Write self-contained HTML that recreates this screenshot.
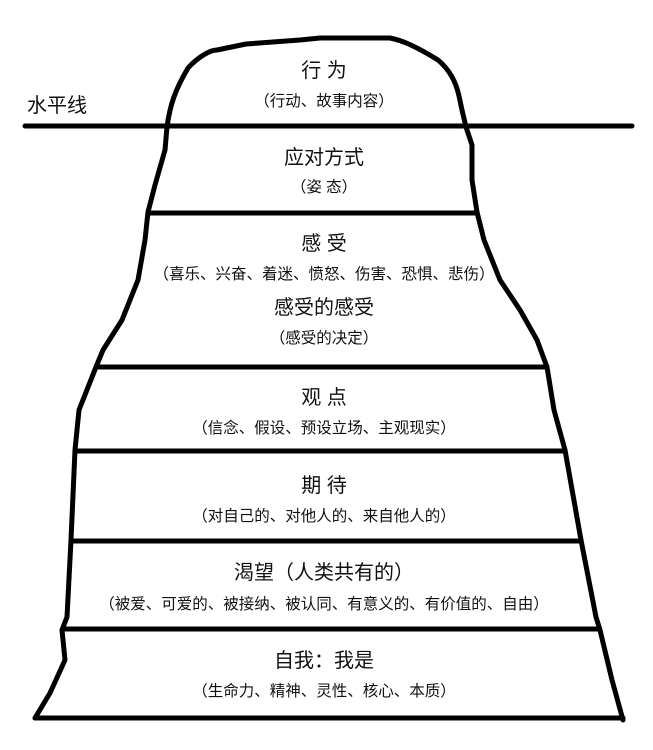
<!DOCTYPE html>
<html><head><meta charset="utf-8"><style>
body{margin:0;background:#fff;}
svg text{font-family:"Liberation Sans","Noto Sans CJK SC",sans-serif;fill:#111;text-anchor:middle;}
.t{font-size:20px;}
.s{font-size:15.5px;}
</style></head><body>
<svg width="653" height="745" viewBox="0 0 653 745" xmlns="http://www.w3.org/2000/svg">
<g fill="none" stroke="#000" stroke-width="5" stroke-linejoin="round" stroke-linecap="round">
<path d="M167,127 C170,105 175,90 188,68 C198,57 210,50 217,50 L246,44 L300,40 L320,38 L390,38 C400,40 412,44 438,60 C450,70 456,82 459,96 L462,110 L466,127 L472,145 L472,180 L477,212 L484,240 L500,280 L520,310 L537,340 L547,367 L554,410 L565,450 L581,540 L596,617 L600,630 L612,680 L623,720"/>
<path d="M167,127 L165,150 L155,185 L148,212 L145,240 L138,280 L122,320 L103,350 L96,367 L79,410 L75,450 L71,540 L67,617 L62,630 L65,660 L50,693 L35,718"/>
<line x1="25" y1="126" x2="632" y2="126"/>
<line x1="148" y1="213" x2="477" y2="213"/>
<line x1="96" y1="367" x2="547" y2="367"/>
<line x1="75" y1="451" x2="565" y2="451"/>
<line x1="71" y1="541" x2="581" y2="541"/>
<line x1="64" y1="629" x2="599" y2="629"/>
<line x1="35" y1="718" x2="623" y2="718"/>
</g>
<text x="27" y="112" class="t" style="text-anchor:start">水平线</text>
<text x="324" y="77" class="t">行 为</text>
<text x="324" y="106" class="s">（行动、故事内容）</text>
<text x="324" y="164" class="t">应对方式</text>
<text x="324" y="192" class="s">（姿 态）</text>
<text x="324" y="250" class="t">感 受</text>
<text x="324" y="279" class="s">（喜乐、兴奋、着迷、愤怒、伤害、恐惧、悲伤）</text>
<text x="324" y="314" class="t">感受的感受</text>
<text x="324" y="343" class="s">（感受的决定）</text>
<text x="324" y="404" class="t">观 点</text>
<text x="324" y="433" class="s">（信念、假设、预设立场、主观现实）</text>
<text x="324" y="492" class="t">期 待</text>
<text x="324" y="521" class="s">（对自己的、对他人的、来自他人的）</text>
<text x="324" y="579" class="t">渴望（人类共有的）</text>
<text x="324" y="609" class="s">（被爱、可爱的、被接纳、被认同、有意义的、有价值的、自由）</text>
<text x="324" y="667" class="t">自我：我是</text>
<text x="324" y="696" class="s">（生命力、精神、灵性、核心、本质）</text>
</svg>
</body></html>
